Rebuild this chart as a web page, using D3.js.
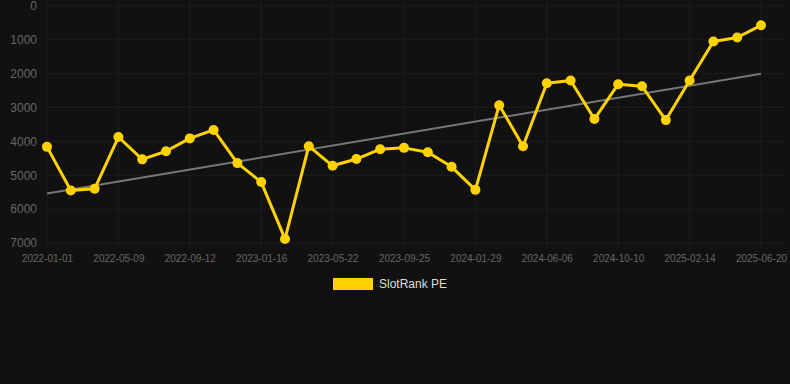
<!DOCTYPE html>
<html>
<head>
<meta charset="utf-8">
<script src="https://cdn.jsdelivr.net/npm/d3@7"></script>
<style>
  html, body { margin: 0; padding: 0; background: #111111; }
  svg { display: block; }
</style>
</head>
<body>
<svg id="chart"></svg>
<script>
/* ── Data ── */
const dates = [
  '2022-01-01', '2022-02-12', '2022-03-26', '2022-05-09', '2022-06-20', '2022-08-01',
  '2022-09-12', '2022-10-24', '2022-12-05', '2023-01-16', '2023-02-27', '2023-04-10',
  '2023-05-22', '2023-07-03', '2023-08-14', '2023-09-25', '2023-11-06', '2023-12-18',
  '2024-01-29', '2024-03-11', '2024-04-23', '2024-06-06', '2024-07-18', '2024-08-29',
  '2024-10-10', '2024-11-21', '2025-01-02', '2025-02-14', '2025-03-28', '2025-05-09',
  '2025-06-20'
];
const rankValues = [
  4160, 5450, 5400, 3870, 4530, 4290, 3910, 3660, 4640, 5200, 6880, 4140,
  4720, 4520, 4230, 4190, 4320, 4750, 5430, 2930, 4140, 2280, 2200, 3340,
  2310, 2370, 3370, 2200, 1050, 930, 570
];
const trendValues = [5540, 2000];   // trend line at first and last date
const yTicks = [0, 1000, 2000, 3000, 4000, 5000, 6000, 7000];
const xTickLabels = dates.filter((d, i) => i % 3 === 0);
const seriesName = 'SlotRank PE';

/* ── Setup ── */
const W = 790, H = 384;
const FONT = 'Arial, "Liberation Sans", Helvetica, sans-serif';
const GOLD = '#FFD200';
const GRID = '#1d1d1d';

const svg = d3.select('#chart').attr('width', W).attr('height', H);
svg.append('rect').attr('width', W).attr('height', H).attr('fill', '#111111');

const x = d3.scalePoint().domain(dates).range([47, 761]);
const y = d3.scaleLinear().domain([0, 7000]).range([6, 243]);

/* ── Grid ── */
svg.append('g')
  .selectAll('line')
  .data(yTicks)
  .join('line')
  .attr('x1', 45).attr('x2', 788)
  .attr('y1', d => y(d)).attr('y2', d => y(d))
  .attr('stroke', GRID).attr('stroke-width', 1);

svg.append('g')
  .selectAll('line')
  .data(xTickLabels)
  .join('line')
  .attr('x1', d => x(d)).attr('x2', d => x(d))
  .attr('y1', 0).attr('y2', 248)
  .attr('stroke', GRID).attr('stroke-width', 1);

/* ── Axes ── */
svg.append('g')
  .attr('transform', 'translate(37,0)')
  .call(d3.axisLeft(y).tickValues(yTicks).tickSize(0).tickPadding(0).tickFormat(d3.format('d')))
  .call(ax => ax.select('.domain').remove())
  .call(ax => ax.selectAll('.tick text')
    .attr('fill', '#666666')
    .attr('font-size', 12)
    .attr('font-family', FONT));

svg.append('g')
  .attr('transform', 'translate(0,255)')
  .call(d3.axisBottom(x).tickValues(xTickLabels).tickSize(0).tickPadding(0))
  .call(ax => ax.select('.domain').remove())
  .call(ax => ax.selectAll('.tick text')
    .attr('fill', '#666666')
    .attr('font-size', 10)
    .attr('font-family', FONT));

/* ── Trend line ── */
svg.append('line')
  .attr('x1', x(dates[0])).attr('y1', y(trendValues[0]))
  .attr('x2', x(dates[dates.length - 1])).attr('y2', y(trendValues[1]))
  .attr('stroke', '#777777')
  .attr('stroke-width', 2);

/* ── Series line + points ── */
const pts = dates.map((d, i) => ({ date: d, value: rankValues[i] }));

svg.append('path')
  .datum(pts)
  .attr('fill', 'none')
  .attr('stroke', GOLD)
  .attr('stroke-width', 3)
  .attr('stroke-linejoin', 'round')
  .attr('d', d3.line().x(d => x(d.date)).y(d => y(d.value)));

svg.append('g')
  .selectAll('circle')
  .data(pts)
  .join('circle')
  .attr('cx', d => x(d.date))
  .attr('cy', d => y(d.value))
  .attr('r', 5)
  .attr('fill', GOLD);

/* ── Legend ── */
const legend = svg.append('g').attr('transform', 'translate(333,278)');
legend.append('rect')
  .attr('width', 40).attr('height', 12)
  .attr('fill', GOLD);
legend.append('text')
  .attr('x', 46).attr('y', 6)
  .attr('dominant-baseline', 'central')
  .attr('fill', '#dddddd')
  .attr('font-size', 12)
  .attr('font-family', FONT)
  .text(seriesName);
</script>
</body>
</html>
